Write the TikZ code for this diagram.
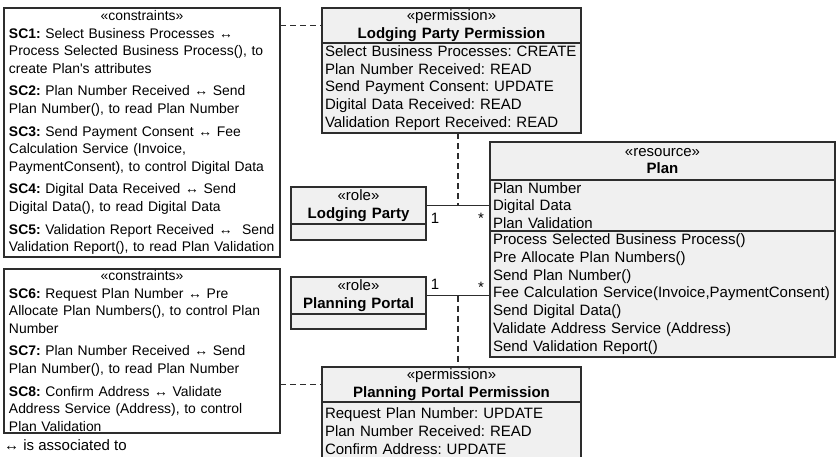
\documentclass[tikz,border=0pt]{standalone}
\usepackage{fontspec}
\setmainfont{Liberation Sans}
\usetikzlibrary{positioning}
\definecolor{boxgray}{RGB}{240,240,240}
\definecolor{umlline}{RGB}{45,45,45}
\frenchspacing
\hyphenpenalty=10000
\exhyphenpenalty=10000
\newcommand{\umlfont}{\fontsize{15}{17.8}\selectfont}
\newcommand{\notefont}{\fontsize{13.9}{17.8}\selectfont}
\tikzset{
  umlhead/.style={draw=umlline, fill=boxgray, line width=1.2pt, outer sep=0pt,
    anchor=north west, inner xsep=3pt, inner ysep=0pt, align=center, font=\umlfont},
  umlbody/.style={umlhead, align=left},
  notebox/.style={draw=umlline, fill=white, line width=1.2pt, outer sep=0pt,
    anchor=north west, inner xsep=5pt, inner ysep=0pt, align=left, font=\notefont},
  realize/.style={draw=umlline, line width=1.2pt, dash pattern=on 6pt off 4pt},
  assoc/.style={draw=umlline, line width=1.2pt},
  mult/.style={font=\umlfont, inner sep=2pt}
}
\begin{document}
\begin{tikzpicture}[x=1pt, y=-1pt]
\useasboundingbox (0,0) rectangle (837,456);
\clip (0,0) rectangle (837,456);

\node[notebox, text width=266pt, minimum height=249pt] (cons1) at (4,8) {%
  \makebox[\linewidth]{«constraints»}\\
  \textbf{SC1:} Select Business Processes ↔\\
  Process Selected Business Process(), to\\
  create Plan\textquotesingle s attributes\\[4.5pt]
  \textbf{SC2:} Plan Number Received ↔ Send\\
  Plan Number(), to read Plan Number\\[4.5pt]
  \textbf{SC3:} Send Payment Consent ↔ Fee\\
  Calculation Service (Invoice,\\
  PaymentConsent), to control Digital Data\\[4.5pt]
  \textbf{SC4:} Digital Data Received ↔ Send\\
  Digital Data(), to read Digital Data\\[4.5pt]
  \textbf{SC5:} Validation Report Received ↔~ Send\\
  Validation Report(), to read Plan Validation};
\node[notebox, text width=266pt, minimum height=164pt] (cons2) at (4,269) {%
  \makebox[\linewidth]{«constraints»}\\
  \textbf{SC6:} Request Plan Number ↔ Pre\\
  Allocate Plan Numbers(), to control Plan\\
  Number\\[4.5pt]
  \textbf{SC7:} Plan Number Received ↔ Send\\
  Plan Number(), to read Plan Number\\[4.5pt]
  \textbf{SC8:} Confirm Address ↔ Validate\\
  Address Service (Address), to control\\
  Plan Validation};
\node[anchor=west, font=\umlfont, inner sep=0pt] (legend) at (4,445) {↔ is associated to};

\node[umlhead, text width=253pt, minimum height=35pt] (lpphead) at (322,8)
  {«permission»\\\textbf{Lodging Party Permission}};
\node[umlbody, text width=253pt, minimum height=90pt] (lppbody) at (lpphead.south west)
  {Select Business Processes: CREATE\\Plan Number Received: READ\\Send Payment Consent: UPDATE\\Digital Data Received: READ\\Validation Report Received: READ};

\node[umlhead, text width=339pt, minimum height=38pt] (planhead) at (490,142)
  {«resource»\\\textbf{Plan}};
\node[umlbody, text width=339pt, minimum height=51pt] (planattr) at (planhead.south west)
  {Plan Number\\Digital Data\\Plan Validation};
\node[umlbody, text width=339pt, minimum height=126pt] (planops) at (planattr.south west)
  {Process Selected Business Process()\\Pre Allocate Plan Numbers()\\Send Plan Number()\\Fee Calculation Service(Invoice,PaymentConsent)\\Send Digital Data()\\Validate Address Service (Address)\\Send Validation Report()};

\node[umlhead, text width=129pt, minimum height=37pt] (lprole) at (291,187)
  {«role»\\\textbf{Lodging Party}};
\node[umlbody, text width=129pt, minimum height=16pt] (lprolebody) at (lprole.south west) {};
\node[umlhead, text width=129pt, minimum height=37pt] (pprole) at (291,277)
  {«role»\\\textbf{Planning Portal}};
\node[umlbody, text width=129pt, minimum height=15pt] (pprolebody) at (pprole.south west) {};

\node[umlhead, text width=253pt, minimum height=35pt] (ppphead) at (322,367)
  {«permission»\\\textbf{Planning Portal Permission}};
\node[umlbody, text width=253pt, minimum height=58pt] (pppbody) at (ppphead.south west)
  {Request Plan Number: UPDATE\\Plan Number Received: READ\\Confirm Address: UPDATE};

\draw[assoc] (lprole.east) -- (lprole.east -| planattr.west)
  node[mult, pos=0.14, below=5pt] {1} node[mult, pos=0.86, below=5pt] {*}
  coordinate[pos=0.5] (lpjoin);
\draw[assoc] (pprole.east) -- (pprole.east -| planops.west)
  node[mult, pos=0.14, above=3pt] {1} node[mult, pos=0.86, above] {*}
  coordinate[pos=0.5] (ppjoin);
\draw[realize] (lppbody.south -| lpjoin) -- (lpjoin);
\draw[realize] (ppjoin) -- (ppjoin |- ppphead.north);
\draw[realize] (cons1.east |- lpphead.west) -- (lpphead.west);
\draw[realize] (cons2.east |- ppphead.west) -- (ppphead.west);
\end{tikzpicture}
\end{document}
